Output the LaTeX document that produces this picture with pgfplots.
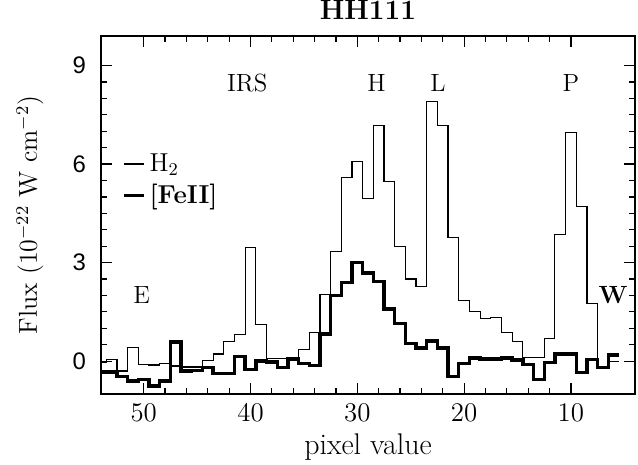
\documentclass[border=0pt]{standalone}
\usepackage{fontspec}
\usepackage{pgfplots}
\pgfplotsset{compat=1.18}
\newfontfamily\helv{Liberation Sans}
\newcommand{\fs}[1]{\fontsize{#1}{#1}\selectfont}

\begin{document}
\begin{tikzpicture}
\useasboundingbox (0,0) rectangle (319bp,232.5bp);
\begin{axis}[
    at={(50.5bp,35.5bp)}, anchor=south west,
    scale only axis,
    width=267bp, height=179bp,
    x dir=reverse,
    xmin=4, xmax=54,
    ymin=-1, ymax=9.9,
    xtick={10,20,30,40,50},
    ytick={0,3,6,9},
    minor x tick num=4,
    minor y tick num=5,
    major tick length=5.3bp,
    minor tick length=2.8bp,
    axis line style={line width=0.9bp},
    every tick/.style={black, line width=0.6bp},
    /pgf/number format/assume math mode=true,
    xticklabel style={font=\fs{13.5}, yshift=-1.2bp},
    yticklabel style={font=\fs{12}\helv, xshift=-4bp},
    xlabel={pixel value},
    xlabel style={font=\fs{15}, at={(axis description cs:0.5,-0.148)}, anchor=center},
    ylabel={Flux (10$^{-22}$ W cm$^{-2}$)},
    ylabel style={font=\fs{13}, at={(axis description cs:-0.133,0.5)}, anchor=center},
    title={\textbf{HH111}},
    title style={font=\fs{14}, inner sep=0pt, at={(axis description cs:0.5,1.012)}, anchor=base},
    legend image code/.code={\draw[#1] (0bp,0bp) -- (10bp,0bp);},
    legend style={draw=none, fill=none, font=\fs{13}, at={(axis description cs:0.039,0.597)},
        anchor=west, row sep=1bp, inner sep=0pt},
    legend cell align=left,
]
% H2, bins centred on integer pixels
\addplot[const plot, black, line width=0.6bp] coordinates {
(54.5,-0.05)(53.5,0.05)(52.5,-0.30)(51.5,0.42)(50.5,-0.10)(49.5,-0.12)(48.5,-0.06)(47.5,-0.15)
(46.5,-0.18)(45.5,-0.18)(44.5,0.02)(43.5,0.22)(42.5,0.59)(41.5,0.80)(40.5,3.47)(39.5,1.12)
(38.5,0.07)(37.5,0.07)(36.5,0.06)(35.5,0.35)(34.5,0.88)(33.5,2.03)(32.5,3.33)(31.5,5.60)
(30.5,6.08)(29.5,4.95)(28.5,7.18)(27.5,5.47)(26.5,3.50)(25.5,2.50)(24.5,2.28)(23.5,7.90)
(22.5,7.18)(21.5,3.77)(20.5,1.85)(19.5,1.50)(18.5,1.30)(17.5,1.34)(16.5,0.88)(15.5,0.60)
(14.5,0.12)(13.5,0.12)(12.5,0.68)(11.5,3.85)(10.5,6.95)(9.5,4.72)(8.5,1.75)(7.5,-0.20)
(6.5,0.00)(5.5,0.00)
};
\addlegendentry{H$_2$}
% [FeII]
\addplot[const plot, black, line width=1.7bp] coordinates {
(54.5,-0.33)(53.5,-0.33)(52.5,-0.47)(51.5,-0.60)(50.5,-0.55)(49.5,-0.76)(48.5,-0.60)(47.5,0.58)
(46.5,-0.30)(45.5,-0.29)(44.5,-0.20)(43.5,-0.38)(42.5,-0.38)(41.5,0.15)(40.5,-0.25)(39.5,0.00)
(38.5,-0.02)(37.5,-0.20)(36.5,0.06)(35.5,-0.07)(34.5,-0.14)(33.5,0.83)(32.5,2.00)(31.5,2.40)
(30.5,3.00)(29.5,2.68)(28.5,2.42)(27.5,1.59)(26.5,1.15)(25.5,0.54)(24.5,0.40)(23.5,0.61)
(22.5,0.40)(21.5,-0.46)(20.5,-0.07)(19.5,0.10)(18.5,0.06)(17.5,0.07)(16.5,0.10)(15.5,0.04)
(14.5,-0.10)(13.5,-0.56)(12.5,-0.04)(11.5,0.22)(10.5,0.22)(9.5,-0.35)(8.5,0.05)(7.5,-0.20)
(6.5,0.19)(5.5,0.19)
};
\addlegendentry{\textbf{[FeII]}}

\node[font=\fs{12.5}] at (axis cs:40.3,8.47) {IRS};
\node[font=\fs{12.5}] at (axis cs:28.2,8.47) {H};
\node[font=\fs{12.5}] at (axis cs:22.45,8.47) {L};
\node[font=\fs{12.5}] at (axis cs:10.0,8.47) {P};
\node[font=\fs{12.5}] at (axis cs:50.2,2.0) {E};
\node[font=\fs{12.5}\bfseries] at (axis cs:6.05,2.0) {W};
\end{axis}
\end{tikzpicture}
\end{document}
